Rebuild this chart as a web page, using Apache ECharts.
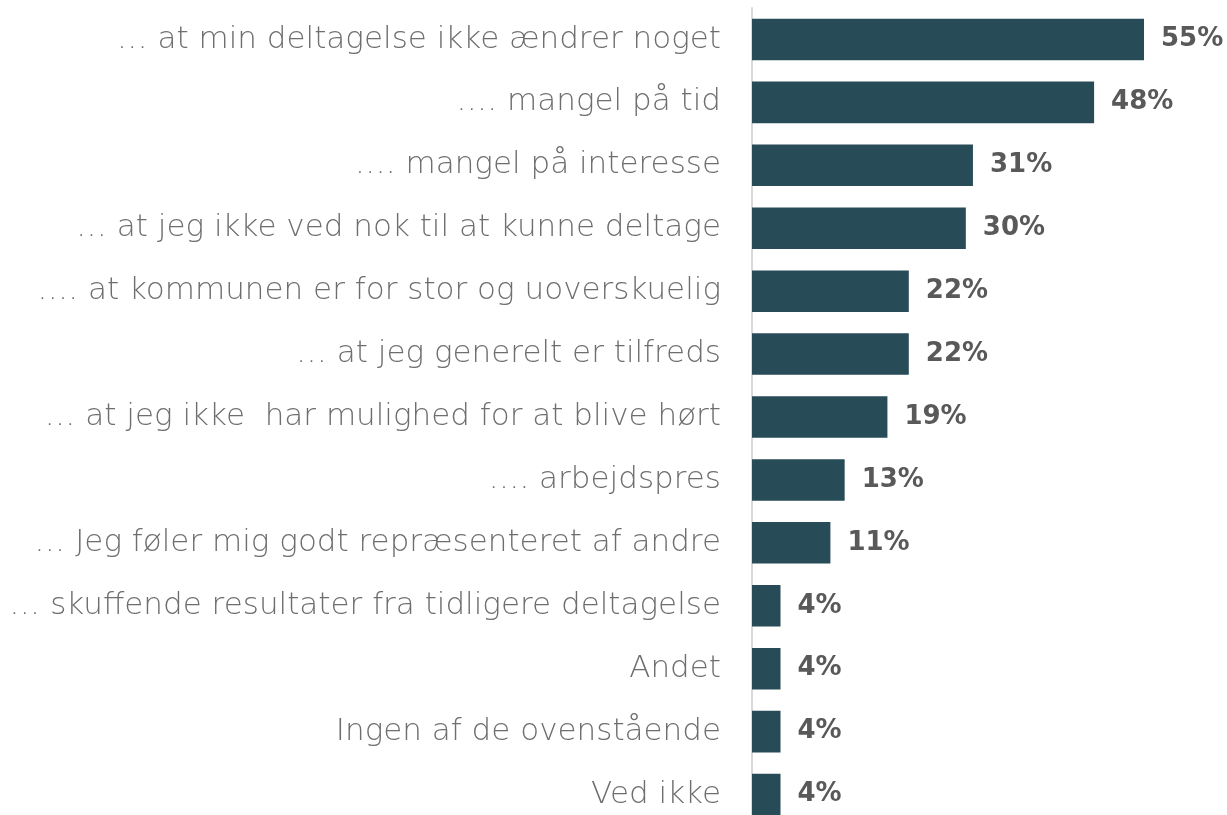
<!DOCTYPE html>
<html>
<head>
<meta charset="utf-8">
<script src="https://cdn.jsdelivr.net/npm/echarts@6/dist/echarts.min.js"></script>
<style>
  html, body { margin: 0; padding: 0; background: #fff; overflow: hidden; }
  #chart { width: 1227px; height: 830px; }
</style>
</head>
<body>
<div id="chart"></div>
<script>
// categories top to bottom
const categories = [
  '… at min deltagelse ikke ændrer noget',
  '…. mangel på tid',
  '…. mangel på interesse',
  '… at jeg ikke ved nok til at kunne deltage',
  '…. at kommunen er for stor og uoverskuelig',
  '… at jeg generelt er tilfreds',
  '… at jeg ikke  har mulighed for at blive hørt',
  '…. arbejdspres',
  '… Jeg føler mig godt repræsenteret af andre',
  '… skuffende resultater fra tidligere deltagelse',
  'Andet',
  'Ingen af de ovenstående',
  'Ved ikke'
];
const values = [55, 48, 31, 30, 22, 22, 19, 13, 11, 4, 4, 4, 4];

let myChart = echarts.init(document.getElementById('chart'));
let option = {
  animation: false,
  grid: {
    left: 752,
    width: 392,
    top: 8,
    height: 818
  },
  xAxis: {
    type: 'value',
    min: 0,
    max: 55,
    show: false
  },
  yAxis: {
    type: 'category',
    inverse: true,
    data: categories,
    axisLine: { show: true, lineStyle: { color: '#d9d9d9', width: 2 } },
    axisTick: { show: false },
    axisLabel: {
      margin: 31,
      fontFamily: 'DejaVu Sans',
      fontWeight: 200,
      fontSize: 31,
      color: '#6e6e6e',
      padding: [6, 0, 0, 0]
    }
  },
  series: [
    {
      type: 'bar',
      data: values,
      barCategoryGap: '34%',
      itemStyle: { color: '#284b58' },
      label: {
        show: true,
        position: 'right',
        distance: 17,
        formatter: '{c}%',
        fontFamily: 'DejaVu Sans',
        fontWeight: 'bold',
        fontSize: 26,
        color: '#595959',
        padding: [6, 0, 0, 0]
      }
    }
  ]
};
myChart.setOption(option);
</script>
</body>
</html>
